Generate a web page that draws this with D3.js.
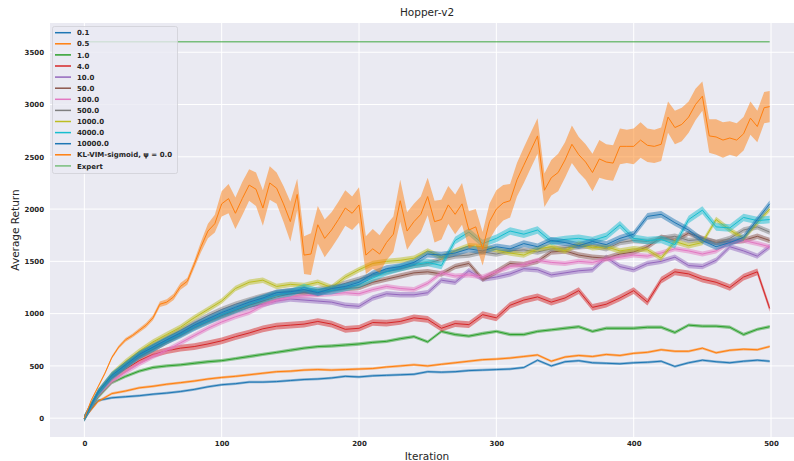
<!DOCTYPE html>
<html>
<head>
<meta charset="utf-8">
<script src="https://cdn.jsdelivr.net/npm/d3@7"></script>
<style>
  body { margin: 0; background: #fff; }
  text { font-family: "DejaVu Sans", sans-serif; }
</style>
</head>
<body>
<svg id="chart"></svg>
<script>
const iters = [...d3.range(0, 500, 10), 499];
const klIters = [...d3.range(0, 500, 5), 499];

const labels = ['0.1', '0.5', '1.0', '4.0', '10.0', '50.0', '100.0', '500.0', '1000.0', '4000.0', '10000.0'];

const ret0_1 = [0,170,195,205,215,230,240,255,275,300, 320,330,345,345,350,360,370,375,385,400, 395,405,410,415,420,445,440,445,455,460, 465,470,485,555,500,540,550,530,525,520, 530,535,545,495,530,555,540,530,545,555, 545];
const ret0_5 = [0,160,235,260,290,305,325,340,355,375, 390,400,415,430,445,450,460,465,460,465, 470,475,490,500,510,500,515,530,545,560, 565,575,590,605,545,585,600,590,610,600, 620,630,655,640,640,670,625,650,660,655, 685];
const ret1 = [0,200,340,400,450,485,500,510,525,540, 550,570,590,610,630,650,670,685,690,700, 710,725,735,760,780,730,830,800,785,810, 830,800,800,830,845,860,875,830,860,860, 860,870,870,820,890,880,880,870,800,850, 875];
const ret4 = [0,230,380,470,550,610,645,670,685,710, 740,780,815,855,880,890,900,925,900,850, 860,915,910,925,960,945,860,905,895,990, 960,1080,1130,1160,1110,1150,1220,1060,1090,1150, 1220,1110,1320,1400,1380,1330,1300,1250,1350,1400, 1050];
const ret10 = [0,240,390,500,590,660,730,790,860,920, 970,1020,1060,1090,1120,1140,1130,1120,1110,1080, 1070,1150,1190,1180,1180,1200,1320,1300,1410,1330, 1350,1380,1430,1420,1370,1390,1410,1420,1540,1450, 1420,1480,1500,1540,1460,1450,1510,1640,1600,1550, 1640];
const ret50 = [0,240,390,500,590,660,730,800,870,930, 980,1030,1080,1120,1160,1190,1200,1190,1220,1240, 1250,1300,1330,1360,1390,1400,1380,1450,1480,1330, 1400,1480,1470,1500,1590,1600,1560,1540,1530,1570, 1590,1640,1730,1700,1770,1720,1680,1690,1700,1740, 1700];
const ret100 = [0,220,350,440,520,590,650,720,790,860, 920,970,1010,1080,1130,1160,1170,1180,1190,1200, 1190,1230,1260,1240,1230,1290,1390,1360,1370,1350, 1400,1450,1470,1510,1490,1480,1500,1490,1520,1540, 1560,1550,1580,1620,1600,1570,1600,1680,1700,1670, 1640];
const ret500 = [0,240,400,520,620,700,770,840,910,980, 1040,1090,1130,1170,1200,1220,1210,1230,1250,1290, 1330,1370,1400,1430,1460,1480,1520,1550,1560,1590, 1570,1600,1610,1590,1620,1630,1640,1650,1620,1680, 1700,1690,1720,1740,1700,1710,1680,1720,1800,1830, 1780];
const ret1000 = [0,250,420,540,640,730,800,870,960,1040, 1120,1240,1300,1320,1260,1280,1270,1300,1250,1350, 1420,1480,1500,1510,1530,1600,1540,1600,1650,1640, 1610,1580,1560,1620,1640,1600,1670,1630,1640,1600, 1620,1610,1530,1690,1650,1680,1900,1800,1720,1870, 2000];
const ret4000 = [0,240,400,500,600,670,740,800,870,930, 990,1040,1090,1140,1180,1200,1250,1210,1220,1250, 1280,1340,1400,1440,1470,1490,1460,1700,1780,1670, 1720,1790,1760,1800,1690,1710,1720,1700,1740,1850, 1720,1700,1710,1660,1900,1990,1830,1820,1920,1890, 1900];
const ret10000 = [0,250,410,510,610,680,750,815,890,950, 1010,1060,1110,1150,1200,1210,1230,1200,1240,1260, 1300,1380,1430,1450,1490,1570,1560,1580,1620,1600, 1640,1620,1670,1640,1700,1680,1650,1690,1660,1720, 1760,1930,1950,1870,1800,1700,1640,1680,1730,1900, 2050];
const runStd = [12, 12, 16, 32, 26, 26, 24, 26, 26, 36, 32];

const klLabel = 'KL-VIM-sigmoid, \u03c8 = 0.0';
const klMean = [0,170,300,430,580,680,750,790,840,890,
  960,1090,1110,1160,1260,1310,1470,1640,1790,1860,
  2050,2100,1960,2100,2230,2190,2010,2250,2200,2050,
  1880,2140,1560,1570,1850,1720,1800,1900,2010,1960,
  2040,1560,1620,1570,1680,1760,2080,1790,1880,1950,
  2120,1880,1900,2040,1950,2050,1800,1830,1620,1880,
  2000,2060,2080,2280,2420,2560,2700,2180,2300,2350,
  2470,2620,2520,2450,2350,2480,2450,2440,2600,2600,
  2600,2660,2610,2600,2620,2880,2780,2810,2880,3000,
  3080,2700,2690,2660,2680,2660,2720,2870,2790,2970,
  2980];
const klStd = [0,8,10,12,14,15,18,18,20,22,
  24,26,28,30,32,34,36,50,70,85,
  120,140,150,160,150,160,170,160,150,170,
  190,150,180,200,180,180,170,170,170,160,
  170,180,190,180,170,170,200,180,170,170,
  180,200,190,180,190,200,180,170,160,170,
  180,170,160,160,170,170,170,160,170,180,
  170,180,170,170,180,180,170,170,170,160,
  170,170,160,160,160,150,160,160,150,150,
  140,160,170,170,160,160,160,160,150,150,
  150];

const expertReturn = 3600;
const xTicks = [0, 100, 200, 300, 400, 500];
const yTicks = [0, 500, 1000, 1500, 2000, 2500, 3000, 3500];

const tab10 = ['#1f77b4', '#ff7f0e', '#2ca02c', '#d62728', '#9467bd', '#8c564b', '#e377c2', '#7f7f7f', '#bcbd22', '#17becf'];

const runValues = [ret0_1, ret0_5, ret1, ret4, ret10, ret50, ret100, ret500, ret1000, ret4000, ret10000];
const runs = labels.map((label, i) => ({
  label,
  color: tab10[i % 10],
  points: iters.map((it, j) => ({ it, m: runValues[i][j], s: runStd[i] }))
}));
runs.push({
  label: klLabel,
  color: '#ff7f0e',
  points: klIters.map((it, j) => ({ it, m: klMean[j], s: klStd[j] }))
});

const width = 794;
const height = 461;
const plot = { left: 50, top: 23, right: 804, bottom: 437 };

const svg = d3.select('#chart')
  .attr('width', width)
  .attr('height', height);

const x = d3.scaleLinear().domain([-25, 524]).range([plot.left, plot.right]);
const y = d3.scaleLinear().domain([-180, 3780]).range([plot.bottom, plot.top]);

svg.append('rect')
  .attr('x', plot.left).attr('y', plot.top)
  .attr('width', plot.right - plot.left).attr('height', plot.bottom - plot.top)
  .attr('fill', '#eaeaf2');

svg.append('clipPath').attr('id', 'clip')
  .append('rect')
  .attr('x', plot.left).attr('y', plot.top)
  .attr('width', plot.right - plot.left).attr('height', plot.bottom - plot.top);

// grid
const grid = svg.append('g').attr('stroke', '#fff').attr('stroke-width', 1);
grid.selectAll('.gx').data(xTicks).enter().append('line')
  .attr('x1', d => x(d)).attr('x2', d => x(d))
  .attr('y1', plot.top).attr('y2', plot.bottom);
grid.selectAll('.gy').data(yTicks).enter().append('line')
  .attr('x1', plot.left).attr('x2', plot.right)
  .attr('y1', d => y(d)).attr('y2', d => y(d));

// axes
const xAxis = svg.append('g')
  .attr('transform', `translate(0,${plot.bottom})`)
  .call(d3.axisBottom(x).tickValues(xTicks).tickFormat(d3.format('d')).tickSize(0).tickPadding(4));
const yAxis = svg.append('g')
  .attr('transform', `translate(${plot.left},0)`)
  .call(d3.axisLeft(y).tickValues(yTicks).tickFormat(d3.format('d')).tickSize(0).tickPadding(6));
[xAxis, yAxis].forEach(a => {
  a.select('.domain').remove();
  a.selectAll('text')
    .attr('font-family', '"DejaVu Sans", sans-serif')
    .attr('font-size', 7)
    .attr('font-weight', 'bold')
    .attr('fill', '#262626');
});

const g = svg.append('g').attr('clip-path', 'url(#clip)');

const area = d3.area()
  .x(d => x(d.it))
  .y0(d => y(d.m - d.s))
  .y1(d => y(d.m + d.s));
const line = d3.line()
  .x(d => x(d.it))
  .y(d => y(d.m));

runs.forEach(r => {
  g.append('path')
    .attr('d', area(r.points))
    .attr('fill', r.color)
    .attr('fill-opacity', 0.5);
  g.append('path')
    .attr('d', line(r.points))
    .attr('fill', 'none')
    .attr('stroke', r.color)
    .attr('stroke-width', 1)
    .attr('stroke-linejoin', 'round');
});

// expert
g.append('line')
  .attr('x1', x(0)).attr('x2', x(499))
  .attr('y1', y(expertReturn)).attr('y2', y(expertReturn))
  .attr('stroke', '#2ca02c')
  .attr('stroke-opacity', 0.6)
  .attr('stroke-width', 1.6);

// labels
svg.append('text')
  .attr('x', (plot.left + plot.right) / 2).attr('y', 16)
  .attr('text-anchor', 'middle')
  .attr('font-size', 10.5)
  .attr('fill', '#262626')
  .text('Hopper-v2');

svg.append('text')
  .attr('x', (plot.left + plot.right) / 2).attr('y', 460)
  .attr('text-anchor', 'middle')
  .attr('font-size', 10.5)
  .attr('fill', '#262626')
  .text('Iteration');

svg.append('text')
  .attr('transform', `translate(19,${(plot.top + plot.bottom) / 2}) rotate(-90)`)
  .attr('text-anchor', 'middle')
  .attr('font-size', 10.5)
  .attr('fill', '#262626')
  .text('Average Return');

// legend
const legendItems = runs.map(r => ({ label: r.label, color: r.color, opacity: 1 }))
  .concat([{ label: 'Expert', color: '#2ca02c', opacity: 0.6 }]);

const legend = svg.append('g');
legend.append('rect')
  .attr('x', 52.5).attr('y', 26.5)
  .attr('width', 125).attr('height', 147)
  .attr('rx', 2)
  .attr('fill', '#eaeaf2').attr('fill-opacity', 0.8)
  .attr('stroke', '#cfcfd6').attr('stroke-width', 0.8);

const rows = legend.selectAll('.row').data(legendItems).enter().append('g')
  .attr('transform', (d, i) => `translate(0,${32.7 + i * 11.1})`);
rows.append('line')
  .attr('x1', 55).attr('x2', 71)
  .attr('stroke', d => d.color)
  .attr('stroke-opacity', d => d.opacity)
  .attr('stroke-width', 1.5);
rows.append('text')
  .attr('x', 77).attr('y', 2.6)
  .attr('font-size', 7)
  .attr('font-weight', 'bold')
  .attr('fill', '#262626')
  .text(d => d.label);
</script>
</body>
</html>
